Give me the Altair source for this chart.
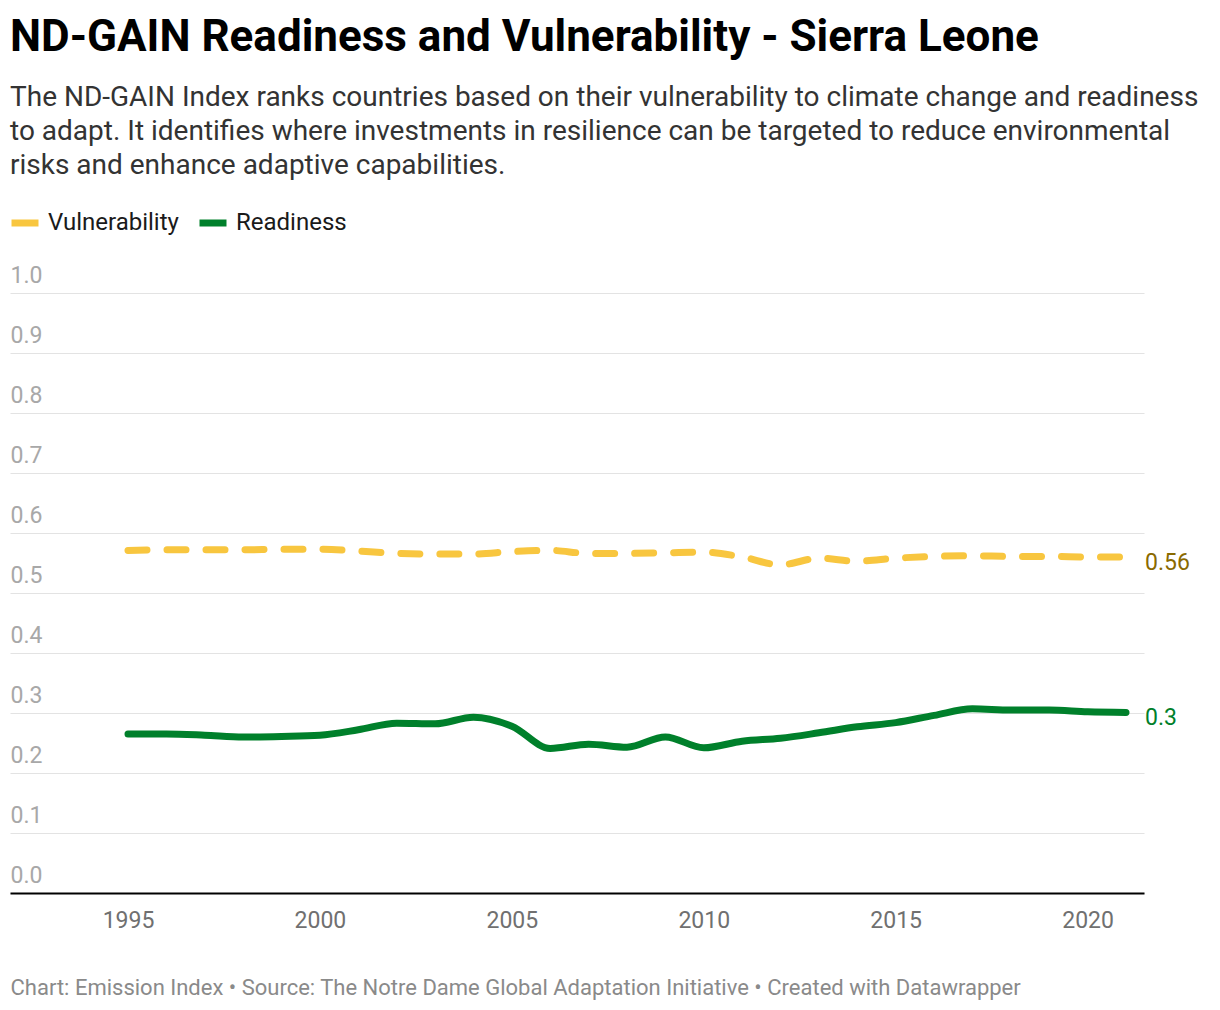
import altair as alt
import pandas as pd

years = list(range(1995, 2022))
readiness = [0.265, 0.265, 0.263, 0.260, 0.261, 0.263, 0.272, 0.283, 0.282, 0.293,
             0.278, 0.241, 0.248, 0.243, 0.260, 0.242, 0.253, 0.258, 0.267, 0.277,
             0.284, 0.296, 0.307, 0.305, 0.305, 0.302, 0.301]
vulnerability = [0.571, 0.572, 0.572, 0.572, 0.573, 0.573, 0.570, 0.566, 0.565, 0.565,
                 0.569, 0.571, 0.566, 0.566, 0.567, 0.568, 0.560, 0.547, 0.558, 0.553,
                 0.558, 0.561, 0.562, 0.561, 0.561, 0.560, 0.560]
series_names = ["Vulnerability", "Readiness"]
series_colors = ["#f8c63f", "#00802b"]
label_colors = ["#8a6a00", "#00802b"]
y_ticks = [0.0, 0.1, 0.2, 0.3, 0.4, 0.5, 0.6, 0.7, 0.8, 0.9, 1.0]
x_ticks = [1995, 2000, 2005, 2010, 2015, 2020]

title_text = "ND-GAIN Readiness and Vulnerability - Sierra Leone"
subtitle_lines = [
    "The ND-GAIN Index ranks countries based on their vulnerability to climate change and readiness",
    "to adapt. It identifies where investments in resilience can be targeted to reduce environmental",
    "risks and enhance adaptive capabilities.",
]
footer_text = "Chart: Emission Index \u2022 Source: The Notre Dame Global Adaptation Initiative \u2022 Created with Datawrapper"


def fmt(v):
    s = f"{round(v, 2):.2f}".rstrip("0").rstrip(".")
    return s


rows = []
for i, y in enumerate(years):
    rows.append({"year": y, "series": "Vulnerability", "value": vulnerability[i]})
    rows.append({"year": y, "series": "Readiness", "value": readiness[i]})
df = pd.DataFrame(rows)
df["label"] = df["value"].map(fmt)

FONT = "Roboto"

x_enc = alt.X(
    "year:Q",
    scale=alt.Scale(domain=[1991.926, 2021.469], nice=False, zero=False),
    axis=alt.Axis(
        values=x_ticks, format="d", grid=False, ticks=False, tickSize=0,
        labelPadding=16, labelFontSize=23, labelColor="#707070", labelFont=FONT,
        domainColor="#000000", domainWidth=2,
        title=footer_text, titleX=0, titleY=94, titleAlign="left",
        titleBaseline="middle", titleAnchor="start", titleFontSize=22,
        titleFontWeight="normal", titleColor="#8a8a8a", titleFont=FONT,
    ),
)
y_enc = alt.Y(
    "value:Q",
    scale=alt.Scale(domain=[0, 1], nice=False),
    axis=alt.Axis(
        values=y_ticks, format=".1f", grid=True, gridColor="#e3e3e3", gridWidth=1,
        domain=False, ticks=False, tickSize=0, labelPadding=0, labelAlign="left",
        labelBaseline="alphabetic", labelOffset=-11, labelFontSize=23,
        labelColor="#a8a8a8", labelFont=FONT, title=None,
    ),
)
color_enc = alt.Color(
    "series:N",
    scale=alt.Scale(domain=series_names, range=series_colors),
    legend=alt.Legend(
        title=None, orient="none", legendX=-2, legendY=-87, direction="horizontal",
        symbolType="stroke", symbolStrokeWidth=7, symbolSize=729,
        labelFontSize=24, labelFont=FONT, labelColor="#1a1a1a",
        labelOffset=6, columnPadding=6, padding=0,
    ),
)

base = alt.Chart(df)

vul_line = base.transform_filter(alt.datum.series == "Vulnerability").mark_line(
    strokeWidth=7, strokeDash=[19, 20], strokeCap="round", interpolate="monotone"
).encode(x=x_enc, y=y_enc, color=color_enc)

rea_line = base.transform_filter(alt.datum.series == "Readiness").mark_line(
    strokeWidth=7, strokeCap="round", strokeJoin="round", interpolate="monotone"
).encode(x=x_enc, y=y_enc, color=color_enc)

end_labels = base.transform_filter(alt.datum.year == years[-1]).mark_text(
    align="left", baseline="middle", dx=19, dy=6, fontSize=23, font=FONT
).encode(
    x="year:Q",
    y="value:Q",
    text="label:N",
    color=alt.condition(alt.datum.series == "Vulnerability",
                        alt.value(label_colors[0]), alt.value(label_colors[1])),
)

chart = alt.layer(vul_line, rea_line, end_labels).properties(
    width=1134,
    height=600,
    background="white",
    autosize=alt.AutoSizeParams(type="none"),
    padding={"left": 2, "top": 285, "right": 60, "bottom": 110},
    title=alt.TitleParams(
        text=title_text,
        subtitle=subtitle_lines,
        anchor="start",
        frame="group",
        font=FONT,
        fontSize=44,
        fontWeight="bold",
        color="#000000",
        subtitleFont=FONT,
        subtitleFontSize=28,
        subtitleColor="#333333",
        subtitleLineHeight=34,
        subtitlePadding=24,
        offset=26,
    ),
).configure_view(strokeWidth=0, stroke="transparent")

chart.save("out.html", embed_options={"renderer": "svg", "actions": False})
